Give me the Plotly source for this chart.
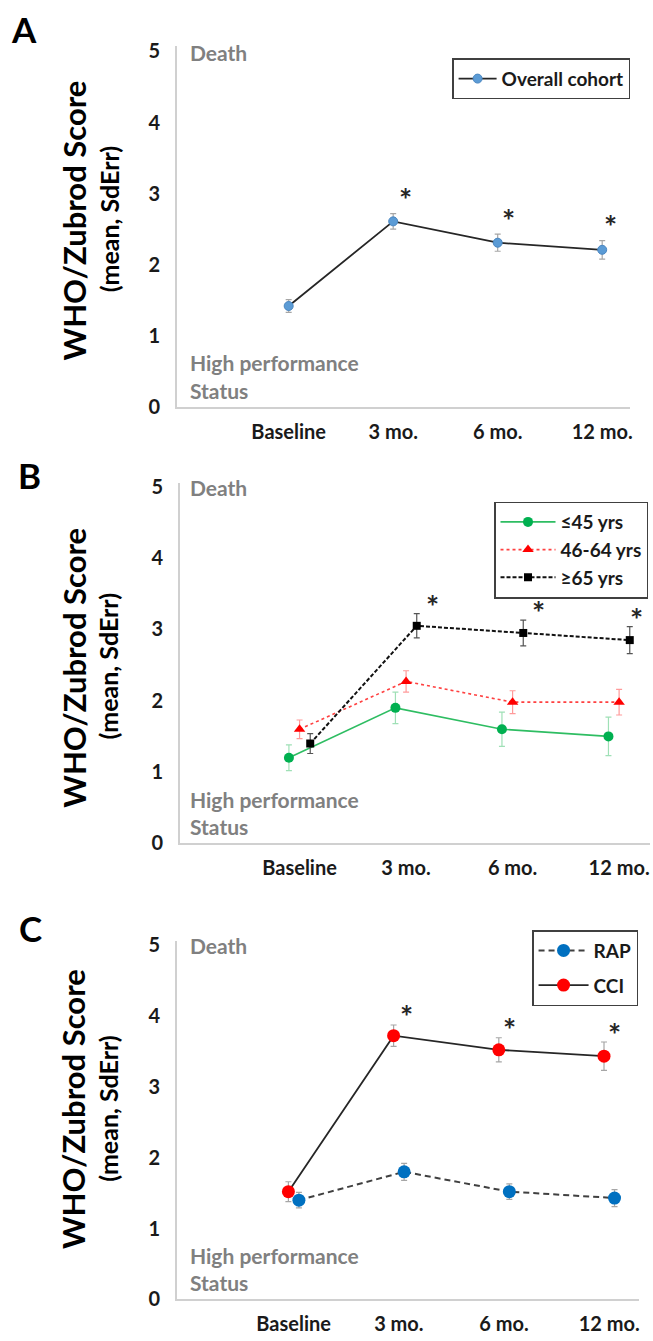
import plotly.graph_objects as go

# ---------------- data ----------------
categories = ["Baseline", "3 mo.", "6 mo.", "12 mo."]
y_ticks = [0, 1, 2, 3, 4, 5]

overall_mean = [1.42, 2.61, 2.31, 2.21]
overall_err = [0.09, 0.11, 0.12, 0.13]

age_le45_mean = [1.20, 1.90, 1.60, 1.50]
age_le45_err = [0.18, 0.22, 0.24, 0.27]
age_46_64_mean = [1.60, 2.27, 1.98, 1.98]
age_46_64_err = [0.13, 0.15, 0.16, 0.18]
age_ge65_mean = [1.40, 3.05, 2.95, 2.85]
age_ge65_err = [0.14, 0.17, 0.18, 0.19]

rap_mean = [1.40, 1.80, 1.52, 1.43]
rap_err = [0.11, 0.12, 0.11, 0.12]
cci_mean = [1.52, 3.72, 3.52, 3.43]
cci_err = [0.14, 0.15, 0.17, 0.20]

significant = [False, True, True, True]

# ---------------- layout helpers ----------------
W, H = 653, 1341
FONT = "Lato"


def px(x):
    return x / W


def py(y):
    return 1 - y / H


idx = list(range(len(categories)))


def shifted(off):
    return [i + off for i in idx]


fig = go.Figure()


def err(vals, color):
    return dict(type="data", array=vals, visible=True, color=color, thickness=1.2, width=3)


# Panel A
fig.add_trace(go.Scatter(
    x=shifted(0), y=overall_mean, mode="lines+markers", name="Overall cohort",
    line=dict(color="#262626", width=1.8),
    marker=dict(symbol="circle", size=9, color="#5b9bd5", line=dict(color="#4a86c0", width=1)),
    error_y=err(overall_err, "#a6a6a6"),
    xaxis="x", yaxis="y", legend="legend"))

# Panel B
fig.add_trace(go.Scatter(
    x=shifted(-0.1), y=age_le45_mean, mode="lines+markers", name="≤45 yrs",
    line=dict(color="#2ebd62", width=1.6),
    marker=dict(symbol="circle", size=10, color="#00b050"),
    error_y=err(age_le45_err, "#9fe0b6"),
    xaxis="x2", yaxis="y2", legend="legend2"))
fig.add_trace(go.Scatter(
    x=shifted(0), y=age_46_64_mean, mode="lines+markers", name="46-64 yrs",
    line=dict(color="#ff4040", width=1.6, dash="dot"),
    marker=dict(symbol="triangle-up", size=10, color="#ff0000"),
    error_y=err(age_46_64_err, "#ff9a9a"),
    xaxis="x2", yaxis="y2", legend="legend2"))
fig.add_trace(go.Scatter(
    x=shifted(0.1), y=age_ge65_mean, mode="lines+markers", name="≥65 yrs",
    line=dict(color="#111111", width=2, dash="4px,2px"),
    marker=dict(symbol="square", size=8, color="#000000"),
    error_y=err(age_ge65_err, "#555555"),
    xaxis="x2", yaxis="y2", legend="legend2"))

# Panel C
fig.add_trace(go.Scatter(
    x=shifted(0.05), y=rap_mean, mode="lines+markers", name="RAP",
    line=dict(color="#404040", width=2, dash="6px,4px"),
    marker=dict(symbol="circle", size=13, color="#0070c0"),
    error_y=err(rap_err, "#a6a6a6"),
    xaxis="x3", yaxis="y3", legend="legend3", legendgroup="rap"))
fig.add_trace(go.Scatter(
    x=shifted(-0.05), y=cci_mean, mode="lines+markers", name="CCI",
    line=dict(color="#262626", width=1.8),
    marker=dict(symbol="circle", size=13, color="#ff0000"),
    error_y=err(cci_err, "#a6a6a6"),
    xaxis="x3", yaxis="y3", legend="legend3", legendgroup="cci"))

# ---------------- axes ----------------
axis_common = dict(showgrid=False, zeroline=False, showline=True, linecolor="#d0d0d0",
                   linewidth=2, ticks="", fixedrange=True)
tickfont = dict(family=FONT, size=20, color="#1a1a1a", weight="bold")

panels = [
    # (suffix, x-domain px, x-range, y bottom px, y top px, y range top)
    ("", (178, 633), (-1.067, 3.267), 404, 38, 5.07),
    ("2", (181, 653), (-1.121, 3.290), 847, 481, 5.055),
    ("3", (178, 642), (-1.107, 3.283), 1310, 946, 5.056),
]
for suf, (x0, x1), xr, yb, yt, ytop in panels:
    fig.update_layout(**{
        "xaxis" + suf: dict(axis_common, domain=[px(x0), px(x1)], range=list(xr),
                            tickvals=idx, ticktext=categories, tickfont=tickfont,
                            ticklabelstandoff=6, anchor="y" + suf),
        "yaxis" + suf: dict(axis_common, domain=[py(yb), py(yt)], range=[0, ytop],
                            tickvals=y_ticks, tickfont=tickfont, ticklabelstandoff=11,
                            anchor="x" + suf),
    })

# ---------------- annotations ----------------
ann = []
gray = "#808080"


def text(x, y, t, size, color="#000000", angle=0, xanchor="center", yanchor="middle"):
    ann.append(dict(x=px(x), y=py(y), xref="paper", yref="paper", text=t, showarrow=False,
                    textangle=angle, xanchor=xanchor, yanchor=yanchor,
                    font=dict(family=FONT, size=size, color=color, weight="bold")))


# panel letters
text(24, 20, "A", 35)
text(30, 473, "B", 35)
text(31, 933, "C", 35)

# y titles
for cy1, cy2 in [(215, 213), (669, 667), (1117, 1116)]:
    text(74, cy1, "WHO/Zubrod Score", 31, angle=-90)
    text(109, cy2, "(mean, SdErr)", 25, angle=-90)

# Death / High performance labels
for top, bottom in [(43, 404), (485, 847), (950, 1310)]:
    text(189, top + 1, "Death", 21, gray, xanchor="left")
    text(189, bottom - 45, "High performance", 21, gray, xanchor="left")
    text(189, bottom - 17, "Status", 21, gray, xanchor="left")

# significance asterisks (placed above the highest series)
star_sets = [
    ("", overall_mean, overall_err, [0, 0.12, 0.1, 0.08], 0.2),
    ("2", age_ge65_mean, age_ge65_err, [0, 0.25, 0.24, 0.16], 0.11),
    ("3", cci_mean, cci_err, [0, 0.07, 0.05, 0.05], 0.12),
]
for suf, means, errs, dxs, k in star_sets:
    for i, sig in enumerate(significant):
        if sig:
            ann.append(dict(x=i + dxs[i], y=means[i] + errs[i] + k, xref="x" + suf, yref="y" + suf,
                            text="*", showarrow=False, yanchor="middle",
                            font=dict(family=FONT, size=31, color="#262626", weight="bold")))

fig.update_layout(annotations=ann)

# ---------------- legends ----------------
leg_common = dict(bgcolor="white", bordercolor="#404040", borderwidth=1.5,
                  font=dict(family=FONT, size=19, color="#1a1a1a", weight="bold"),
                  xanchor="right", yanchor="top", itemclick=False,
                  itemdoubleclick=False)
fig.update_layout(
    legend=dict(leg_common, x=px(633), y=py(50), itemwidth=38),
    legend2=dict(leg_common, x=px(651), y=py(500), itemwidth=55),
    legend3=dict(leg_common, x=px(641), y=py(935), itemwidth=50, tracegroupgap=7),
    showlegend=True,
    width=W, height=H,
    margin=dict(l=0, r=0, t=0, b=0),
    paper_bgcolor="white", plot_bgcolor="white",
)

fig.write_html("out.html", config={"displayModeBar": False},
               post_script="document.body.style.margin='0px';document.body.style.overflow='hidden';")
